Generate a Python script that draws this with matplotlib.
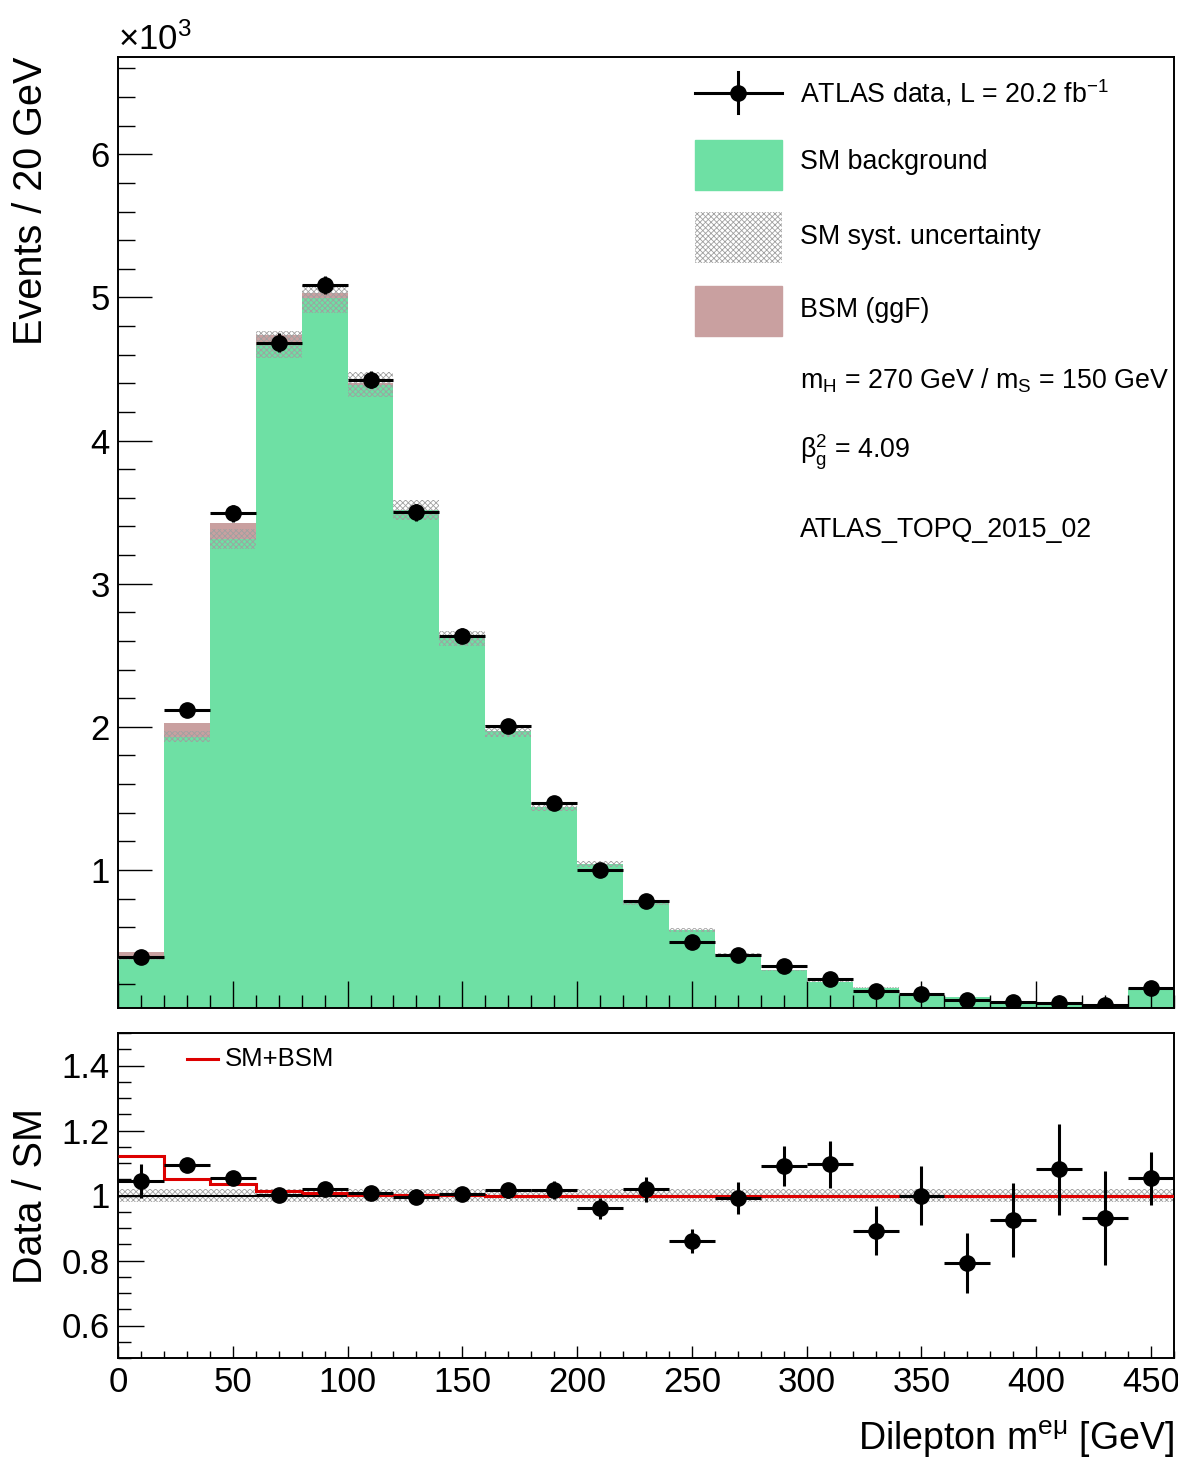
import numpy as np
import matplotlib.pyplot as plt
from matplotlib.patches import Rectangle
from matplotlib.lines import Line2D
from matplotlib.ticker import MultipleLocator

plt.rcParams["font.family"] = ["Liberation Sans", "DejaVu Sans"]
plt.rcParams["mathtext.fontset"] = "custom"
plt.rcParams["mathtext.rm"] = "Liberation Sans"
plt.rcParams["mathtext.it"] = "Liberation Sans:italic"
plt.rcParams["mathtext.bf"] = "Liberation Sans:bold"
plt.rcParams["hatch.linewidth"] = 0.6

# 20 GeV bins in dilepton mass
bin_edges = np.arange(0, 480, 20)
bin_centers = bin_edges[:-1] + 10

# events per bin, in units of 10^3
data_counts = [0.394, 2.114, 3.493, 4.684, 5.088, 4.426, 3.500, 2.636, 2.003,
               1.467, 1.000, 0.784, 0.499, 0.408, 0.325, 0.241, 0.157, 0.130,
               0.088, 0.074, 0.067, 0.053, 0.178]
sm_background = [0.377, 1.932, 3.311, 4.670, 4.993, 4.391, 3.514, 2.620, 1.971,
                 1.442, 1.041, 0.769, 0.580, 0.411, 0.298, 0.220, 0.176, 0.130,
                 0.111, 0.080, 0.062, 0.057, 0.169]
bsm_ggf = [0.046, 0.097, 0.116, 0.065, 0.035, 0.009, 0.002, 0.001, 0.0, 0.0,
           0.0, 0.0, 0.0, 0.0, 0.0, 0.0, 0.0, 0.0, 0.0, 0.0, 0.0, 0.0, 0.0]
# relative SM systematic uncertainty per bin
sm_syst_rel = [0.020, 0.020, 0.021, 0.020, 0.020, 0.020, 0.020, 0.020, 0.020,
               0.020, 0.020, 0.020, 0.020, 0.020, 0.020, 0.020, 0.020, 0.020,
               0.020, 0.020, 0.020, 0.020, 0.020]
# statistical error on data relative to the SM prediction
data_err_rel = [0.052, 0.022, 0.018, 0.014, 0.013, 0.014, 0.017, 0.020, 0.023,
                0.027, 0.032, 0.038, 0.038, 0.049, 0.062, 0.073, 0.075, 0.090,
                0.092, 0.115, 0.140, 0.145, 0.082]

data = np.array(data_counts)
sm = np.array(sm_background)
bsm = np.array(bsm_ggf)
syst = np.array(sm_syst_rel)
err_rel = np.array(data_err_rel)

green = "#6ee0a4"
pink = "#c9a0a0"
hatch_col = "#a0a0a0"

fig = plt.figure(figsize=(11.78, 14.60), dpi=100)
ax = fig.add_axes([118 / 1178, 1 - 1008 / 1460, 1056 / 1178, 951 / 1460])
axr = fig.add_axes([118 / 1178, 1 - 1358 / 1460, 1056 / 1178, 325 / 1460])

# --- main panel ---
ax.stairs(sm, bin_edges, baseline=0, fill=True, color=green, zorder=1)
ax.stairs(sm + bsm, bin_edges, baseline=sm, fill=True, color=pink, zorder=2)
ax.stairs(sm * (1 + syst), bin_edges, baseline=sm * (1 - syst), fill=True,
          facecolor="none", edgecolor=hatch_col, hatch="xxxxxx", linewidth=0,
          zorder=3)
ax.errorbar(bin_centers, data, xerr=10, yerr=err_rel * sm, fmt="o", color="k",
            ms=11, elinewidth=2.2, capsize=0, zorder=4)

ax.set_xlim(0, 460)
ax.set_ylim(0.035, 6.68)
ax.xaxis.set_major_locator(MultipleLocator(50))
ax.xaxis.set_minor_locator(MultipleLocator(10))
ax.yaxis.set_major_locator(MultipleLocator(1))
ax.yaxis.set_minor_locator(MultipleLocator(0.2))
ax.tick_params(axis="x", which="major", direction="in", length=19.5, width=1,
               labelbottom=False)
ax.tick_params(axis="x", which="minor", direction="in", length=9.5, width=1)
ax.tick_params(axis="y", which="major", direction="in", length=24.5, width=1,
               labelsize=25, pad=6)
ax.tick_params(axis="y", which="minor", direction="in", length=12, width=1)
ax.set_ylabel("Events / 20 GeV", fontsize=28.5, loc="top")
ax.yaxis.set_label_coords(-0.064, 1.0)
fig.text(118 / 1178, 1 - 50 / 1460, "×10$^{3}$", fontsize=25, ha="left",
         va="baseline")

# legend of the main panel
tx = 0.646
x0, x1 = 0.546, 0.629
ax.add_line(Line2D([x0, x1], [0.962, 0.962], color="k", lw=2.2,
                   transform=ax.transAxes))
ax.add_line(Line2D([(x0 + x1) / 2] * 2, [0.941, 0.984], color="k", lw=2.2,
                   transform=ax.transAxes))
ax.plot([(x0 + x1) / 2], [0.962], "o", color="k", ms=11,
        transform=ax.transAxes)
ax.add_patch(Rectangle((x0, 0.860), x1 - x0, 0.053, color=green,
                       transform=ax.transAxes))
ax.add_patch(Rectangle((x0, 0.783), x1 - x0, 0.054, facecolor="none",
                       edgecolor=hatch_col, hatch="xxxxxx", linewidth=0,
                       transform=ax.transAxes))
ax.add_patch(Rectangle((x0, 0.707), x1 - x0, 0.052, color=pink,
                       transform=ax.transAxes))
leg_kw = dict(transform=ax.transAxes, fontsize=19.3, ha="left", va="center")
ax.text(tx, 0.962, "ATLAS data, L = 20.2 fb$^{-1}$", **leg_kw)
ax.text(tx, 0.890, "SM background", **leg_kw)
ax.text(tx, 0.811, "SM syst. uncertainty", **leg_kw)
ax.text(tx, 0.734, "BSM (ggF)", **leg_kw)
ax.text(tx, 0.660, "m$_{\\mathrm{H}}$ = 270 GeV / m$_{\\mathrm{S}}$ = 150 GeV",
        **leg_kw)
ax.text(tx, 0.584, "$\\mathrm{β}^{2}_{\\mathrm{g}}$ = 4.09", **leg_kw)
ax.text(tx, 0.503, "ATLAS_TOPQ_2015_02", **leg_kw)

# --- ratio panel ---
ratio = data / sm
ratio_bsm = (sm + bsm) / sm
axr.stairs(1 + syst, bin_edges, baseline=1 - syst, fill=True,
           facecolor="none", edgecolor=hatch_col, hatch="xxxxxx", linewidth=0,
           zorder=1)
axr.stairs(np.ones_like(sm), bin_edges, baseline=None, color="k", lw=1.5,
           zorder=2)
axr.stairs(ratio_bsm, bin_edges, baseline=None, color="#dd0000", lw=2.2,
           zorder=3)
axr.errorbar(bin_centers, ratio, xerr=10, yerr=err_rel, fmt="o", color="k",
             ms=11, elinewidth=2.2, capsize=0, zorder=4)

axr.set_xlim(0, 460)
axr.set_ylim(0.5, 1.5)
axr.xaxis.set_major_locator(MultipleLocator(50))
axr.xaxis.set_minor_locator(MultipleLocator(10))
axr.yaxis.set_minor_locator(MultipleLocator(0.05))
axr.set_yticks([0.6, 0.8, 1.0, 1.2, 1.4])
axr.set_yticklabels(["0.6", "0.8", "1", "1.2", "1.4"])
axr.tick_params(axis="x", which="major", direction="in", length=8.6, width=1,
                labelsize=25, pad=6)
axr.tick_params(axis="x", which="minor", direction="in", length=4.7, width=1)
axr.tick_params(axis="y", which="major", direction="in", length=18.7, width=1,
                labelsize=25, pad=6)
axr.tick_params(axis="y", which="minor", direction="in", length=9.4, width=1)
axr.set_ylabel("Data / SM", fontsize=28.5)
axr.yaxis.set_label_coords(-0.064, 0.5)
axr.set_xlabel("Dilepton m$^{\\mathrm{eμ}}$ [GeV]", fontsize=27, loc="right")
axr.xaxis.set_label_coords(1.0, -0.185)

axr.add_line(Line2D([0.0653, 0.0947], [0.92, 0.92], color="#dd0000", lw=2.2,
                    transform=axr.transAxes))
axr.text(0.101, 0.92, "SM+BSM", transform=axr.transAxes, fontsize=18.5,
         ha="left", va="center")

for a in (ax, axr):
    for sp in a.spines.values():
        sp.set_linewidth(1.4)

fig.savefig("out.png", dpi=100)
